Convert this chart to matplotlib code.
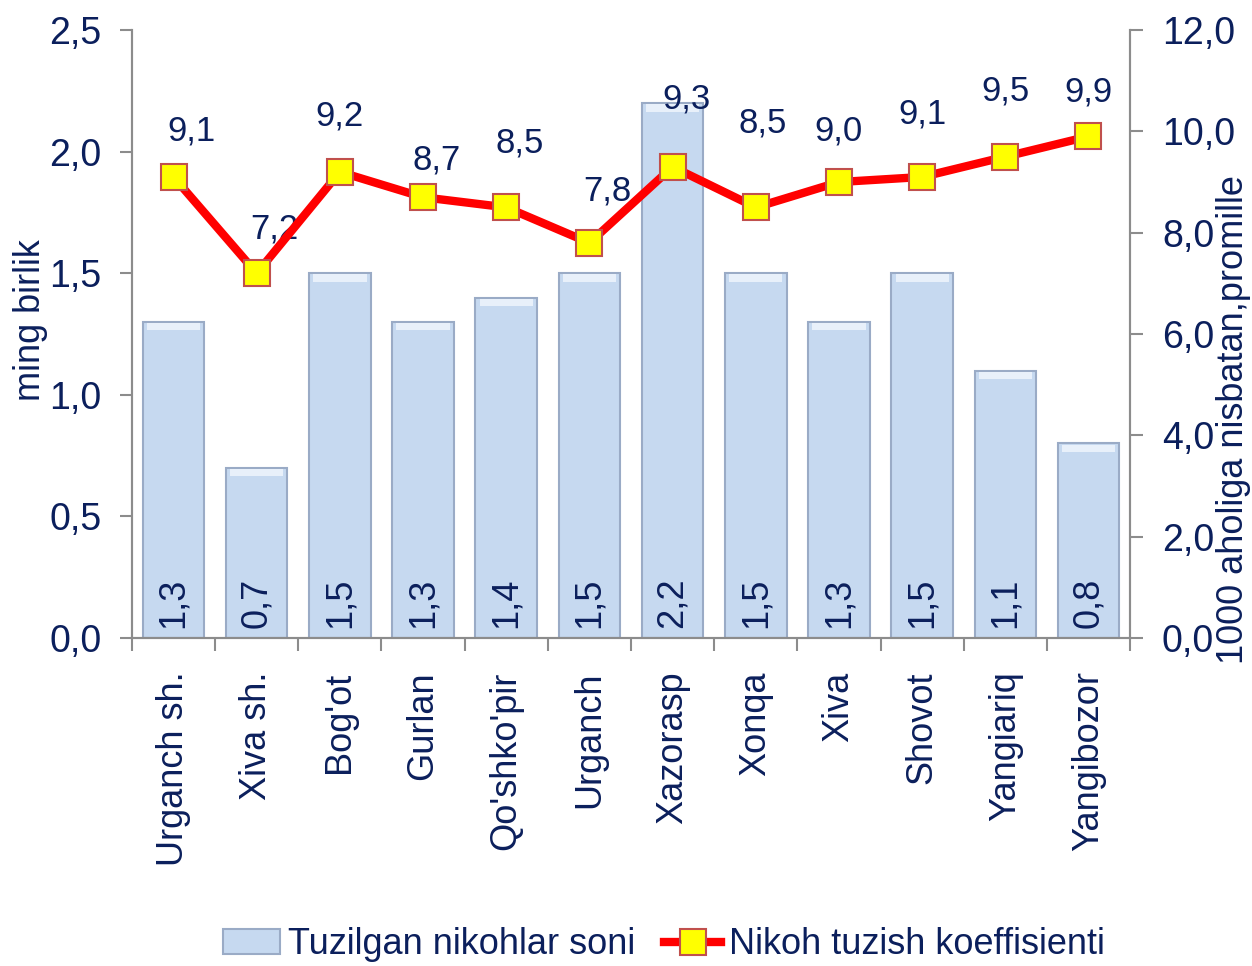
import matplotlib
matplotlib.use('Agg')
import matplotlib.pyplot as plt
import numpy as np

regions = ['Urganch sh.', 'Xiva sh.', "Bog'ot", 'Gurlan', "Qo'shko'pir", 'Urganch',
           'Xazorasp', 'Xonqa', 'Xiva', 'Shovot', 'Yangiariq', 'Yangibozor']
marriages = [1.3, 0.7, 1.5, 1.3, 1.4, 1.5, 2.2, 1.5, 1.3, 1.5, 1.1, 0.8]
coef = [9.1, 7.2, 9.2, 8.7, 8.5, 7.8, 9.3, 8.5, 9.0, 9.1, 9.5, 9.9]

# label offsets (points) above each marker, as in the original
lab_dy = [33, 32, 40, 27, 46, 37, 49, 61, 37, 45, 47, 32]
lab_dx = [13, 13, 0, 10, 10, 13, 10, 5, 0, 0, 0, 0]

navy = '#0b1f5c'
grey = '#8c8c8c'
plt.rcParams['font.family'] = ['Liberation Sans', 'DejaVu Sans']

fig = plt.figure(figsize=(12.52, 9.66), dpi=100)
ax = fig.add_axes([0.1054, 0.3395, 0.7972, 0.6294])
ax2 = ax.twinx()

x = np.arange(len(regions))
bars = ax.bar(x, marriages, width=0.74, color='#c6d9f0', edgecolor='#9aabc6', linewidth=1.5,
              label='Tuzilgan nikohlar soni', zorder=2)
# light bevel at the top of each bar
ax.bar(x, [0.03] * len(x), bottom=np.array(marriages) - 0.035, width=0.64,
       color='#e8f0fa', linewidth=0, zorder=2.5)
for xi, v in zip(x, marriages):
    ax.text(xi, 0.04, f'{v:.1f}'.replace('.', ','), rotation=90, ha='center', va='bottom',
            fontsize=26, color=navy, zorder=3)

ax.set_xlim(-0.5, len(regions) - 0.5)
ax.set_ylim(0, 2.5)
ax.set_yticks(np.arange(0, 2.51, 0.5))
ax.set_yticklabels([f'{t:.1f}'.replace('.', ',') for t in np.arange(0, 2.51, 0.5)])
ax.set_xticks(x)
ax.set_xticklabels(regions, rotation=90, fontsize=26, color=navy)
ax.set_xticks(np.arange(-0.5, len(regions), 1), minor=True)
ax.tick_params(axis='x', which='major', length=0, pad=24)
ax.tick_params(axis='x', which='minor', length=9, color=grey, width=1.5)
ax.tick_params(axis='y', labelsize=27, labelcolor=navy, length=9, color=grey, width=1.5, pad=13)
ax.set_ylabel('ming birlik', fontsize=26, color=navy, va='center')
ax.yaxis.set_label_coords(-0.102, 0.523)

ln, = ax2.plot(x, coef, color='red', linewidth=6, marker='s', markersize=19,
               markerfacecolor='#ffff00', markeredgecolor='#c0504d', markeredgewidth=1.5,
               label='Nikoh tuzish koeffisienti', zorder=4)
for xi, v, dy, dx in zip(x, coef, lab_dy, lab_dx):
    ax2.annotate(f'{v:.1f}'.replace('.', ','), (xi, v), xytext=(dx, dy), textcoords='offset points',
                 ha='center', va='center', fontsize=25, color=navy)
ax2.set_ylim(0, 12)
ax2.set_yticks(np.arange(0, 12.1, 2))
ax2.set_yticklabels([f'{t:.1f}'.replace('.', ',') for t in np.arange(0, 12.1, 2)])
ax2.tick_params(axis='y', labelsize=27, labelcolor=navy, length=9, color=grey, width=1.5, pad=14)
ax2.set_ylabel('1000 aholiga nisbatan,promille', fontsize=26, color=navy, va='center')
ax2.yaxis.set_label_coords(1.104, 0.36)

for a in (ax, ax2):
    a.spines['top'].set_visible(False)
    for s in ('left', 'right', 'bottom'):
        a.spines[s].set_color(grey)
        a.spines[s].set_linewidth(1.5)
ax.set_zorder(ax2.get_zorder() - 1)
ax.patch.set_visible(False)

fig.legend([bars, ln], ['Tuzilgan nikohlar soni', 'Nikoh tuzish koeffisienti'],
           loc='center', bbox_to_anchor=(0.53, 0.022), ncol=2, frameon=False,
           fontsize=26, labelcolor=navy, handlelength=1.6, handletextpad=0.2, columnspacing=0.8)

fig.savefig('out.png', dpi=100)
